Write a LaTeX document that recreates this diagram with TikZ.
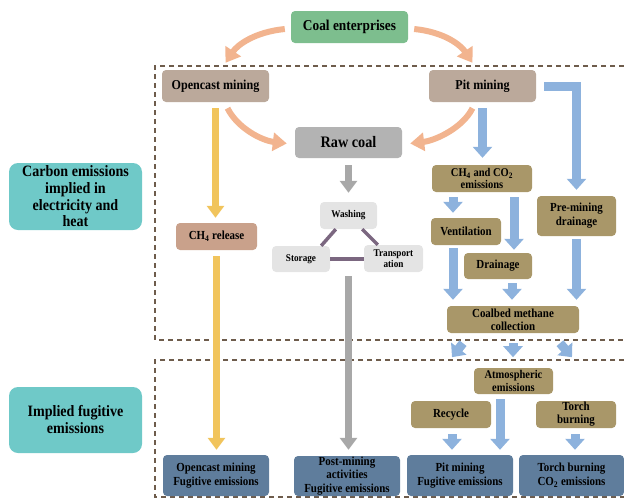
\documentclass[tikz,border=0pt]{standalone}
\usepackage{fontspec}
\setmainfont[FakeStretch=0.89]{Liberation Serif}
\usetikzlibrary{arrows.meta,calc}
\definecolor{cgreen}{HTML}{7DBE8E}
\definecolor{ctaupe}{HTML}{BBA99B}
\definecolor{cgray}{HTML}{B3B3B3}
\definecolor{cteal}{HTML}{6FC9C8}
\definecolor{ckhaki}{HTML}{A99769}
\definecolor{crose}{HTML}{C9A18B}
\definecolor{clight}{HTML}{E4E4E4}
\definecolor{cslate}{HTML}{5F7D9C}
\definecolor{cpurple}{HTML}{7B6780}
\definecolor{cblue}{HTML}{8DB2DD}
\definecolor{cyellow}{HTML}{F1C45C}
\definecolor{cgrayarr}{HTML}{A8A8A8}
\definecolor{corange}{HTML}{F2B48F}
\definecolor{cdash}{HTML}{6E5C4C}
\begin{document}
\begin{tikzpicture}[x=1pt,y=-1pt,
  box/.style={rounded corners=4pt, align=center, inner sep=1pt, text=black,
    font=\bfseries\fontsize{12.3}{13}\selectfont},
  bx/.style 2 args={box, minimum width=#1, minimum height=#2},
  bluearr/.style={draw=cblue, line width=9pt, -{Triangle[width=19pt,length=11pt]}},
  yelarr/.style={draw=cyellow, line width=7pt, -{Triangle[width=17pt,length=12pt]}},
  grayarr/.style={draw=cgrayarr, line width=7pt, -{Triangle[width=17pt,length=12pt]}},
  orarr/.style={draw=corange, line width=6pt, -{Triangle[width=18pt,length=14pt]}},
  tri/.style={draw=cpurple, line width=3.5pt},
  dashbox/.style={draw=cdash, line width=1.2pt, dash pattern=on 5pt off 4pt}
]
\useasboundingbox (0,0) rectangle (624,499);

% dashed regions
\draw[dashbox] (624,66) -- (155,66) -- (155,340) -- (624,340);
\draw[dashbox] (624,360) -- (155,360) -- (155,497) -- (624,497);

% nodes
\node[bx={117pt}{32pt}, fill=cgreen, font=\bfseries\fontsize{15}{16}\selectfont] (ce) at (349.5,27) {Coal enterprises};
\node[bx={107pt}{32pt}, fill=ctaupe, font=\bfseries\fontsize{13.6}{15}\selectfont] (om) at (215.5,86) {Opencast mining};
\node[bx={107pt}{32pt}, fill=ctaupe, font=\bfseries\fontsize{13.6}{15}\selectfont] (pm) at (482.5,86) {Pit mining};
\node[bx={107pt}{31pt}, fill=cgray, font=\bfseries\fontsize{16}{17}\selectfont] (rc) at (348.5,142.5) {Raw coal};

\node[bx={133pt}{67pt}, fill=cteal, rounded corners=9pt, font=\bfseries\fontsize{15.8}{16.7}\selectfont] (ceh) at (75.5,196.5) {Carbon emissions\\implied in\\electricity and\\heat};
\node[bx={133pt}{66pt}, fill=cteal, rounded corners=9pt, font=\bfseries\fontsize{15.8}{17}\selectfont] (ife) at (75.5,420) {Implied fugitive\\emissions};

\node[bx={100pt}{27pt}, fill=ckhaki, font=\bfseries\fontsize{11.8}{12.5}\selectfont] (ch4co2) at (482,178.5) {CH\textsubscript{4} and CO\textsubscript{2}\\emissions};
\node[bx={70pt}{27pt}, fill=ckhaki] (vent) at (466,231.5) {Ventilation};
\node[bx={79pt}{40pt}, fill=ckhaki, font=\bfseries\fontsize{12.3}{14}\selectfont] (pmd) at (576.5,216) {Pre-mining\\drainage};
\node[bx={68pt}{26pt}, fill=ckhaki] (drn) at (498,266) {Drainage};
\node[bx={132pt}{27pt}, fill=ckhaki, font=\bfseries\fontsize{12.3}{13}\selectfont] (cbm) at (513,319.5) {Coalbed methane\\collection};

\node[bx={81pt}{27pt}, fill=crose] (ch4r) at (216.5,236.5) {CH\textsubscript{4} release};

\node[bx={57pt}{27pt}, fill=clight, font=\bfseries\fontsize{10.3}{11}\selectfont] (wash) at (348.5,215.5) {Washing};
\node[bx={58pt}{26pt}, fill=clight, font=\bfseries\fontsize{10.3}{11}\selectfont] (stor) at (301,259) {Storage};
\node[bx={59pt}{27pt}, fill=clight, font=\bfseries\fontsize{10.3}{11.5}\selectfont] (trans) at (393.5,258.5) {Transport\\ation};

\node[bx={79pt}{26pt}, fill=ckhaki, font=\bfseries\fontsize{11.8}{12.5}\selectfont] (atm) at (513.5,381) {Atmospheric\\emissions};
\node[bx={80pt}{27pt}, fill=ckhaki] (rec) at (451,414.5) {Recycle};
\node[bx={80pt}{27pt}, fill=ckhaki, font=\bfseries\fontsize{12.3}{13}\selectfont] (tb) at (576,414.5) {Torch\\burning};

\node[bx={106pt}{41pt}, fill=cslate, font=\bfseries\fontsize{12.3}{14}\selectfont] (f1) at (216,475.5) {Opencast mining\\Fugitive emissions};
\node[bx={106pt}{40pt}, fill=cslate, font=\bfseries\fontsize{12.3}{13.3}\selectfont] (f2) at (347,476) {Post-mining\\activities\\Fugitive emissions};
\node[bx={106pt}{41pt}, fill=cslate, font=\bfseries\fontsize{12.3}{14}\selectfont] (f3) at (460,475.5) {Pit mining\\Fugitive emissions};
\node[bx={105pt}{41pt}, fill=cslate, font=\bfseries\fontsize{12.3}{14}\selectfont] (f4) at (571.5,475.5) {Torch burning\\CO\textsubscript{2} emissions};

% orange curved arrows
\draw[orarr] ([xshift=-6pt,yshift=-2pt]ce.west) .. controls +(-30,3) and +(12,-18) .. ([xshift=10pt,yshift=7pt]om.north);
\draw[orarr] ([xshift=6pt,yshift=-2pt]ce.east) .. controls +(30,3) and +(-12,-18) .. ([xshift=-10pt,yshift=7pt]pm.north);
\draw[orarr] ([xshift=12pt,yshift=-6pt]om.south) .. controls +(10,20) and +(-25,-3) .. ([xshift=-8pt,yshift=-1pt]rc.west);
\draw[orarr] ([xshift=-10pt,yshift=-6pt]pm.south) .. controls +(-10,20) and +(25,-3) .. ([xshift=8pt,yshift=-1pt]rc.east);

% yellow arrows
\draw[yelarr, shorten <=6pt, shorten >=5pt] (om.south) -- (om.south |- ch4r.north);
\draw[yelarr, shorten <=6pt, shorten >=5pt] (ch4r.south) -- (ch4r.south |- f1.north);

% gray arrows
\draw[grayarr, shorten <=7pt, shorten >=9pt] (rc.south) -- (wash.north);
\draw[grayarr, shorten <=4pt, shorten >=6pt] (wash.south |- stor.south) -- (wash.south |- f2.north);

% triangle links
\draw[tri] ([xshift=16pt]wash.south west) -- ([xshift=-9pt]stor.north east);
\draw[tri] ([xshift=-15pt]wash.south east) -- ([xshift=14pt]trans.north west);
\draw[tri] (stor.east) -- (stor.east -| trans.west);

% blue arrows
\draw[bluearr, shorten <=6pt, shorten >=7pt] (pm.south) -- (pm.south |- ch4co2.north);
\draw[bluearr, line join=miter, shorten <=8pt, shorten >=6pt] (pm.east) -| (pmd.north);
\draw[bluearr, shorten <=5pt, shorten >=5pt] ([xshift=-29pt]ch4co2.south) -- ([xshift=-13pt]vent.north);
\draw[bluearr, shorten <=5pt, shorten >=3pt] ([xshift=32pt]ch4co2.south) -- ([xshift=16pt]drn.north);
\draw[bluearr, shorten <=3pt, shorten >=6pt] (pmd.south) -- ([xshift=63.5pt]cbm.north);
\draw[bluearr, shorten <=3pt, shorten >=6pt] ([xshift=-13pt]vent.south) -- ([xshift=-60pt]cbm.north);
\draw[bluearr, shorten <=4pt, shorten >=6pt] ([xshift=14pt]drn.south) -- ([xshift=-1pt]cbm.north);
\draw[bluearr] ([xshift=-50pt,yshift=-10pt]cbm.south) -- ++(-11,14);
\draw[bluearr] ([yshift=-10pt]cbm.south) -- ++(0,14);
\draw[bluearr] ([xshift=47pt,yshift=-10pt]cbm.south) -- ++(12,14);
\draw[bluearr, shorten <=5pt, shorten >=5pt] ([xshift=-13.5pt]atm.south) -- ([xshift=40pt]f3.north);
\draw[bluearr, shorten <=6pt, shorten >=5pt] ([xshift=1pt]rec.south) -- ([xshift=-8pt]f3.north);
\draw[bluearr, shorten <=6pt, shorten >=5pt] ([xshift=-1pt]tb.south) -- ([xshift=3.5pt]f4.north);
\end{tikzpicture}
\end{document}
